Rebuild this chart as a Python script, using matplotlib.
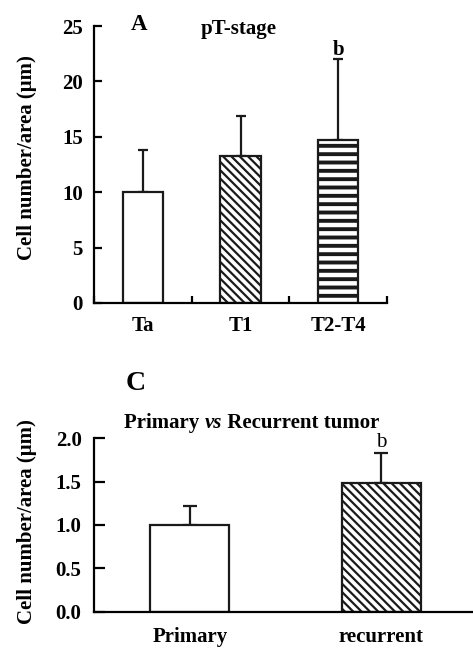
import numpy as np
import matplotlib
matplotlib.use("Agg")
import matplotlib.pyplot as plt

plt.rcParams["font.family"] = ["Liberation Serif", "DejaVu Serif"]
plt.rcParams["font.weight"] = "bold"
plt.rcParams["axes.labelweight"] = "bold"

# panel A: pT-stage
STAGES = ["Ta", "T1", "T2-T4"]
STAGE_MEAN = [10.0, 13.3, 14.7]
STAGE_SD = [3.8, 3.6, 7.3]
STAGE_HATCH = ["", "\\\\\\\\", "--"]
STAGE_YTICKS = [0, 5, 10, 15, 20, 25]

# panel C: primary vs recurrent
TUMORS = ["Primary", "recurrent"]
TUMOR_MEAN = [1.0, 1.49]
TUMOR_SD = [0.22, 0.34]
TUMOR_HATCH = ["", "\\\\\\\\"]
TUMOR_YTICKS = [0.0, 0.5, 1.0, 1.5, 2.0]

YLABEL = "Cell number/area (\u03bcm)"
FS = 15
W, H = 473, 652


def fx(px):
    return px / W


def fy(py):
    return 1 - py / H


def style_axes(ax):
    for s in ["top", "right"]:
        ax.spines[s].set_visible(False)
    for s in ["left", "bottom"]:
        ax.spines[s].set_linewidth(1.6)


def bars(ax, x, mean, sd, hatches, capsize):
    ax.errorbar(x, mean, yerr=[np.zeros(len(sd)), sd], fmt="none",
                ecolor="#1a1a1a", elinewidth=1.6, capsize=capsize,
                capthick=1.6, zorder=1)
    for xi, m, h in zip(x, mean, hatches):
        with plt.rc_context({"hatch.linewidth": 2.8 if h == "--" else 1.6}):
            ax.bar(xi, m, width=0.41, color="white", edgecolor="#1a1a1a",
                   linewidth=1.6, hatch=h, zorder=2)


fig = plt.figure(figsize=(W / 100, H / 100), dpi=100)

# ---- panel A
axA = fig.add_axes([fx(94), fy(303), fx(387 - 94), fy(26) - fy(303)])
style_axes(axA)
xA = np.arange(len(STAGES)) + 0.5
bars(axA, xA, STAGE_MEAN, STAGE_SD, STAGE_HATCH, 3.6)
axA.set_xlim(0, 3)
axA.set_ylim(0, 25)
axA.set_yticks(STAGE_YTICKS)
axA.set_xticks([0, 1, 2, 3])
axA.set_xticklabels([])
axA.set_xticks(xA, minor=True)
axA.set_xticklabels(STAGES, minor=True, fontsize=FS, fontweight="bold")
axA.tick_params(axis="x", which="major", direction="in", length=5, width=1.6)
axA.tick_params(axis="x", which="minor", length=0, pad=9.5)
axA.tick_params(axis="y", direction="in", length=6, width=1.6, pad=8,
                labelsize=FS)
axA.text(xA[2], 22.4, "b", ha="center", va="baseline", fontsize=FS,
         fontweight="bold")
fig.text(fx(139), fy(30.5), "A", ha="center", va="baseline", fontsize=16.5,
         fontweight="bold")
fig.text(fx(239), fy(34), "pT-stage", ha="center", va="baseline",
         fontsize=FS, fontweight="bold")
fig.text(fx(27), fy(158), YLABEL, rotation=90, ha="center", va="center",
         fontsize=FS, fontweight="bold")

# ---- panel C
axC = fig.add_axes([fx(94), fy(611.7), 1 - fx(94), fy(438.3) - fy(611.7)])
style_axes(axC)
xC = np.arange(len(TUMORS)) + 0.5
bars(axC, xC, TUMOR_MEAN, TUMOR_SD, TUMOR_HATCH, 4.7)
axC.set_xlim(0, 2 * 379 / 383)
axC.set_ylim(0, 2.0)
axC.set_yticks(TUMOR_YTICKS)
axC.set_yticklabels([f"{v:.1f}" for v in TUMOR_YTICKS])
axC.set_xticks(xC)
axC.set_xticklabels(TUMORS, fontsize=FS, fontweight="bold")
axC.tick_params(axis="x", length=0, pad=11)
axC.tick_params(axis="y", direction="in", length=8, width=1.6, pad=9,
                labelsize=FS)
axC.text(xC[1], 1.895, "b", ha="center", va="baseline", fontsize=FS,
         fontweight="normal")
fig.text(fx(136), fy(390), "C", ha="center", va="baseline", fontsize=20,
         fontweight="bold")
t1 = fig.text(fx(124), fy(428), "Primary ", ha="left", va="baseline",
              fontsize=FS, fontweight="bold")
t2 = axC.annotate("vs", xy=(1, 0), xycoords=t1, ha="left", va="bottom",
                  fontsize=FS, fontweight="bold", fontstyle="italic",
                  annotation_clip=False)
axC.annotate(" Recurrent tumor", xy=(1, 0), xycoords=t2, ha="left",
             va="bottom", fontsize=FS, fontweight="bold",
             annotation_clip=False)
fig.text(fx(27), fy(521.7), YLABEL, rotation=90, ha="center", va="center",
         fontsize=FS, fontweight="bold")

fig.savefig("out.png", dpi=100)
